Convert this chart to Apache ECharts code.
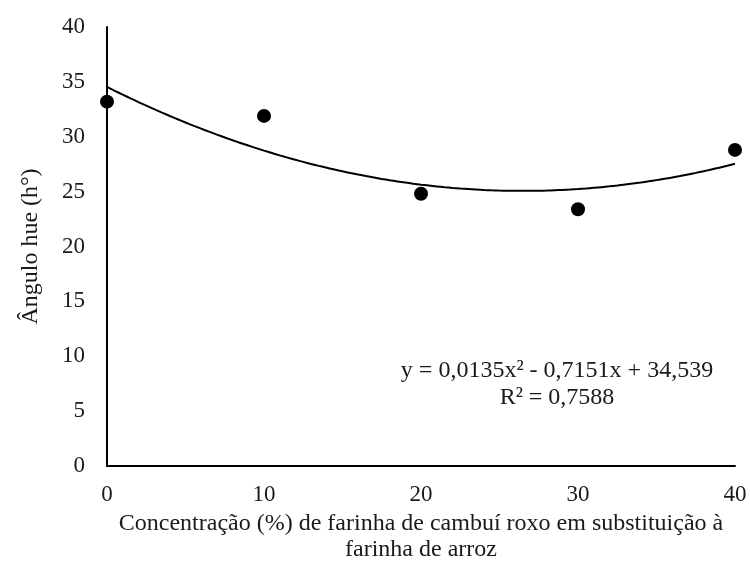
<!DOCTYPE html>
<html>
<head>
<meta charset="utf-8">
<script src="https://cdn.jsdelivr.net/npm/echarts@6/dist/echarts.min.js"></script>
<style>
html, body { margin: 0; padding: 0; background: #fff; }
#chart { width: 750px; height: 563px; }
</style>
</head>
<body>
<div id="chart"></div>
<script>
// Observed hue angle at each substitution level
const concentrations = [0, 10, 20, 30, 40];
const hueValues = [33.2, 31.9, 24.8, 23.4, 28.8];

// Quadratic fit coefficients: a*x^2 + b*x + c
const fitCoefficients = [0.0135, -0.7151, 34.539];
const equationLines = ['y = 0,0135x² - 0,7151x + 34,539', 'R² = 0,7588'];

const xTicks = [0, 10, 20, 30, 40];
const yTicks = [0, 5, 10, 15, 20, 25, 30, 35, 40];

// Sample the fitted curve across the x range
const curve = [];
for (let x = 0; x <= 40; x += 0.5) {
  const [a, b, c] = fitCoefficients;
  curve.push([x, a * x * x + b * x + c]);
}

const FONT = '"Liberation Serif", "DejaVu Serif", serif';
const TEXT = '#1a1a1a';
const chart = echarts.init(document.getElementById('chart'));
chart.setOption({
  animation: false,
  backgroundColor: '#fff',
  textStyle: { fontFamily: FONT },
  grid: { left: 107, right: 15, top: 27, bottom: 97, containLabel: false, outerBoundsMode: 'none' },
  xAxis: {
    type: 'value',
    min: xTicks[0], max: xTicks[xTicks.length - 1], interval: 10,
    axisLine: { lineStyle: { color: '#000', width: 2 } },
    axisTick: { show: false },
    splitLine: { show: false },
    axisLabel: { color: TEXT, fontSize: 23, fontFamily: FONT, margin: 17 },
    name: 'Concentração (%) de farinha de cambuí roxo em substituição à\nfarinha de arroz',
    nameLocation: 'middle',
    nameGap: 42,
    nameTextStyle: { color: TEXT, fontSize: 24, fontFamily: FONT, lineHeight: 26 }
  },
  yAxis: {
    type: 'value',
    min: yTicks[0], max: yTicks[yTicks.length - 1], interval: 5,
    axisLine: { show: true, lineStyle: { color: '#000', width: 2 } },
    axisTick: { show: false },
    splitLine: { show: false },
    axisLabel: { color: TEXT, fontSize: 23, fontFamily: FONT, margin: 22 },
    name: 'Ângulo hue (h°)',
    nameLocation: 'middle',
    nameGap: 64,
    nameTextStyle: { color: TEXT, fontSize: 24, fontFamily: FONT }
  },
  graphic: [{
    type: 'text',
    x: 557, y: 357,
    style: {
      text: equationLines.join('\n'),
      font: '24px ' + FONT,
      fill: TEXT,
      align: 'center',
      verticalAlign: 'top',
      lineHeight: 27
    }
  }],
  series: [
    {
      type: 'line',
      data: curve,
      showSymbol: false,
      smooth: true,
      lineStyle: { color: '#000', width: 2 },
      z: 2
    },
    {
      type: 'scatter',
      data: concentrations.map((x, i) => [x, hueValues[i]]),
      symbol: 'circle',
      symbolSize: 14,
      itemStyle: { color: '#000', opacity: 1 },
      z: 3
    }
  ]
});
</script>
</body>
</html>
